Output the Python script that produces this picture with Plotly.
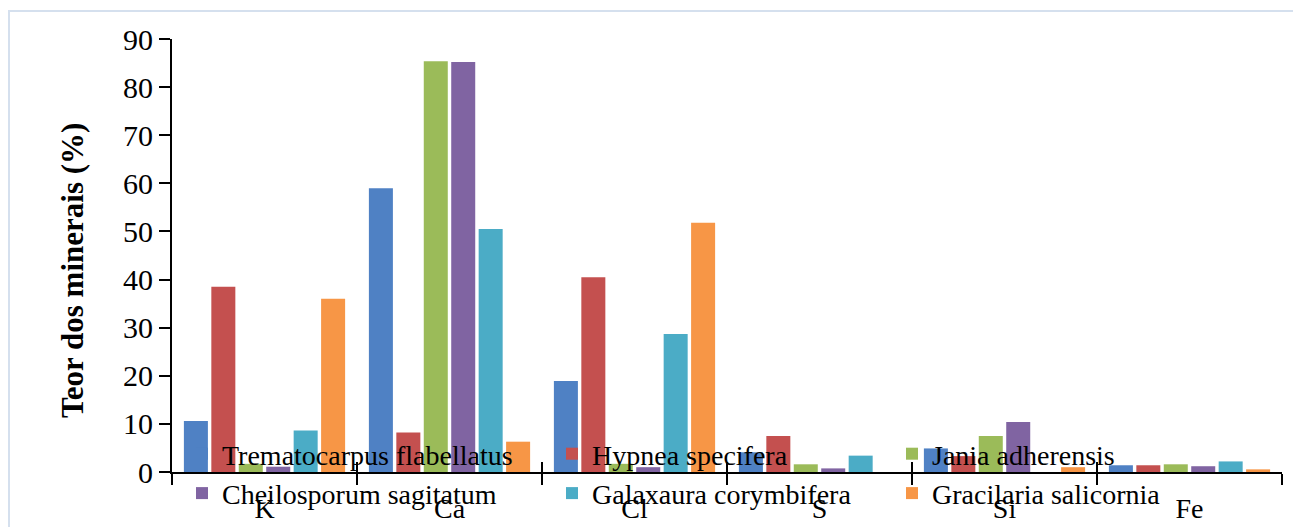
import plotly.graph_objects as go

categories = ["K", "Ca", "Cl", "S", "Si", "Fe"]
series_names = [
    "Trematocarpus flabellatus",
    "Hypnea specifera",
    "Jania adherensis",
    "Cheilosporum sagitatum",
    "Galaxaura corymbifera",
    "Gracilaria salicornia",
]
trematocarpus = [10.6, 59.0, 18.9, 4.1, 4.9, 1.4]
hypnea = [38.5, 8.2, 40.5, 7.5, 3.3, 1.4]
jania = [1.7, 85.4, 1.7, 1.6, 7.5, 1.6]
cheilosporum = [1.1, 85.2, 1.0, 0.75, 10.4, 1.2]
galaxaura = [8.6, 50.5, 28.7, 3.4, 0.0, 2.2]
gracilaria = [36.0, 6.3, 51.8, 0.0, 1.0, 0.55]
y_ticks = [0, 10, 20, 30, 40, 50, 60, 70, 80, 90]

series_values = [trematocarpus, hypnea, jania, cheilosporum, galaxaura, gracilaria]
colors = ["#4F81C4", "#C4504F", "#9BBB59", "#8064A2", "#4BACC6", "#F79646"]
legend_ids = ["legend", "legend2", "legend3", "legend", "legend2", "legend3"]

FONT = "Liberation Serif"

fig = go.Figure()
for name, vals, col, lg in zip(series_names, series_values, colors, legend_ids):
    fig.add_trace(go.Bar(
        x=categories, y=vals, name=name,
        marker=dict(color=col, line=dict(width=0)),
        legend=lg,
    ))

# helper trace for the inner half of the "cross" ticks on the category axis
fig.add_trace(go.Scatter(
    x=[0], y=[0], xaxis="x2", mode="markers",
    marker=dict(opacity=0), showlegend=False, hoverinfo="skip",
))

OFF = 8  # page offset of the figure (body margin)
W, H = 1301 - OFF, 527 - OFF
L, R, T, B = 172 - OFF, 19, 39 - OFF, 55
pw, ph = W - L - R, H - T - B


def px_x(p):
    return (p - OFF - L) / pw


def px_y(p):
    return (H - B - (p - OFF)) / ph


legend_common = dict(
    orientation="v", xanchor="left", yanchor="top",
    bgcolor="rgba(0,0,0,0)", borderwidth=0,
    font=dict(family=FONT, size=28, color="black"),
    tracegroupgap=0, itemwidth=30,
)

fig.update_layout(
    width=W, height=H,
    margin=dict(l=L, r=R, t=T, b=B, autoexpand=False),
    paper_bgcolor="white", plot_bgcolor="white",
    barmode="group", bargap=0.11, bargroupgap=0.125,
    font=dict(family=FONT, color="black"),
    legend=dict(x=px_x(182), y=px_y(429), **legend_common),
    legend2=dict(x=px_x(552), y=px_y(429), **legend_common),
    legend3=dict(x=px_x(892), y=px_y(429), **legend_common),
    xaxis=dict(
        type="category", categoryorder="array", categoryarray=categories,
        showline=True, linecolor="black", linewidth=2,
        ticks="outside", tickson="boundaries", ticklen=11, tickwidth=2, tickcolor="black",
        tickfont=dict(family=FONT, size=28, color="black"),
        ticklabelstandoff=10,
        showgrid=False, zeroline=False, automargin=False,
    ),
    xaxis2=dict(
        overlaying="x", anchor="y", side="bottom",
        range=[-0.5, 5.5], tickmode="array",
        tickvals=[-0.5, 0.5, 1.5, 2.5, 3.5, 4.5, 5.5],
        ticks="inside", ticklen=10, tickwidth=2, tickcolor="black",
        showticklabels=False, showline=False, showgrid=False, zeroline=False,
        automargin=False,
    ),
    yaxis=dict(
        range=[0, 90], tickmode="array", tickvals=y_ticks,
        showline=True, linecolor="black", linewidth=2,
        ticks="outside", ticklen=11, tickwidth=2, tickcolor="black",
        tickfont=dict(family=FONT, size=30, color="black"),
        showgrid=False, zeroline=False, automargin=False,
    ),
    annotations=[dict(
        text="Teor dos minerais (%)",
        xref="paper", yref="paper", x=px_x(72), y=px_y(271),
        textangle=-90, showarrow=False,
        font=dict(family=FONT, size=31, color="black", weight="bold"),
        xanchor="center", yanchor="middle",
    )],
    shapes=[dict(
        type="rect", xref="paper", yref="paper",
        x0=px_x(9), x1=px_x(1297), y0=px_y(540), y1=px_y(11),
        line=dict(color="#D5E0EE", width=2), fillcolor="rgba(0,0,0,0)",
        layer="below",
    )],
)

fig.write_html("out.html")
